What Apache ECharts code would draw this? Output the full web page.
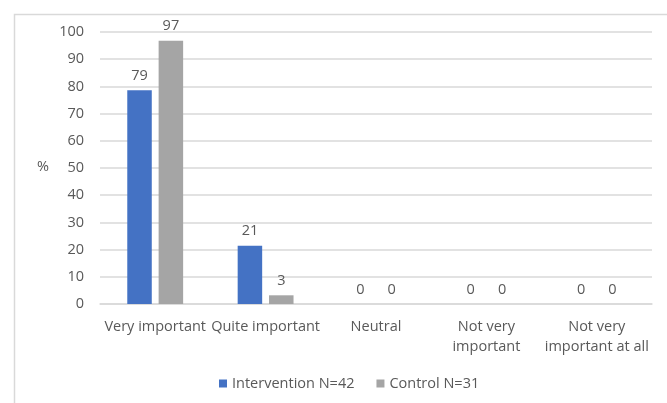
<!DOCTYPE html>
<html><head><meta charset="utf-8">
<script src="https://cdn.jsdelivr.net/npm/echarts@6/dist/echarts.min.js"></script>
<style>html,body{margin:0;padding:0;background:#fff}#c{width:667px;height:403px}</style>
</head><body><div id="c"></div>
<script>
const categories = ['Very important', 'Quite important', 'Neutral', 'Not very\nimportant', 'Not very\nimportant at all'];
const intervention = [78.6, 21.4, 0, 0, 0];
const control = [96.8, 3.2, 0, 0, 0];
const seriesNames = ['Intervention N=42', 'Control N=31'];
const yTicks = {min: 0, max: 100, interval: 10};

const font = 'Open Sans, Noto Sans, sans-serif';
const fs = 14.5;
const txt = '#595959';
const chart = echarts.init(document.getElementById('c'), null, {renderer: 'canvas'});
const lbl = {show: true, position: 'top', distance: 7, color: txt, fontFamily: font, fontSize: fs,
  formatter: p => Math.round(p.value)};
chart.setOption({
  animation: false,
  graphic: [
    {type: 'rect', left: 12, top: 12, shape: {width: 700, height: 420}, style: {fill: 'none', stroke: '#d9d9d9', lineWidth: 1.5}, z: -1},
    {type: 'text', left: 37, top: 159, style: {text: '%', fill: txt, font: fs + 'px ' + font}}
  ],
  legend: {bottom: 7, left: 214, itemWidth: 8, itemHeight: 8, itemGap: 22, icon: 'rect',
    textStyle: {color: txt, fontFamily: font, fontSize: fs}, data: seriesNames},
  grid: {left: 100, right: 15, top: 32, bottom: 99},
  xAxis: {type: 'category', data: categories,
    axisLine: {lineStyle: {color: '#d9d9d9', width: 1.5}}, axisTick: {show: false},
    axisLabel: {color: txt, fontFamily: font, fontSize: fs, margin: 13, lineHeight: 20, interval: 0}},
  yAxis: {type: 'value', min: yTicks.min, max: yTicks.max, interval: yTicks.interval,
    axisLine: {show: false}, axisTick: {show: false},
    splitLine: {lineStyle: {color: '#d9d9d9', width: 1.5}},
    axisLabel: {color: txt, fontFamily: font, fontSize: fs, margin: 16}},
  series: [
    {name: seriesNames[0], type: 'bar', data: intervention, itemStyle: {color: '#4472c4'},
      barWidth: 24.5, barGap: '28%', label: lbl},
    {name: seriesNames[1], type: 'bar', data: control, itemStyle: {color: '#a5a5a5'},
      barWidth: 24.5, barGap: '28%', label: lbl}
  ]
});
</script></body></html>
